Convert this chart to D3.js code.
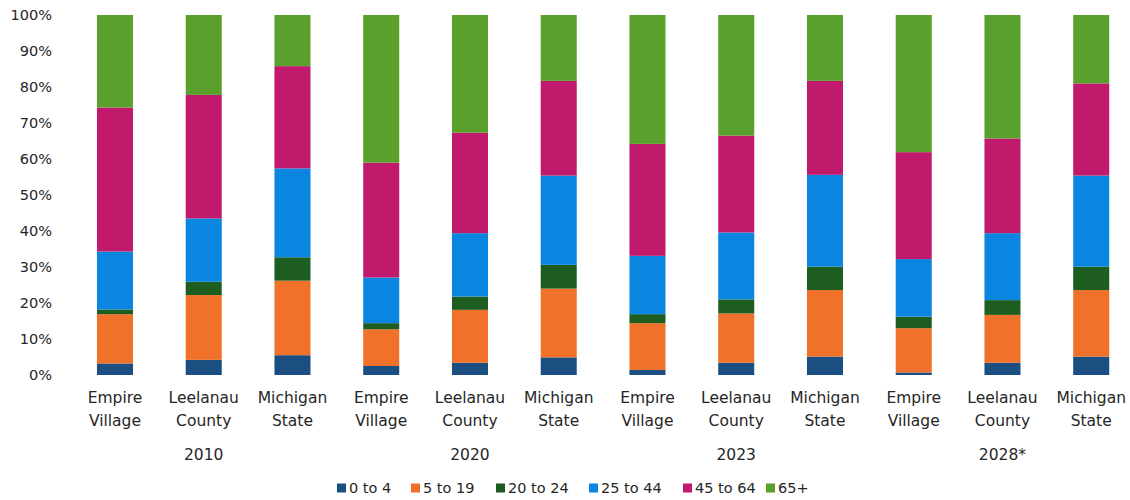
<!DOCTYPE html>
<html>
<head>
<meta charset="utf-8">
<script src="https://cdn.jsdelivr.net/npm/d3@7"></script>
<style>
  html, body { margin: 0; padding: 0; background: #fff; }
  svg text { font-family: "DejaVu Sans", sans-serif; fill: #262626; }
</style>
</head>
<body>
<svg id="chart" width="1130" height="500"></svg>
<script>
// Population share by age group (percent of total)
const years = ["2010", "2020", "2023", "2028*"];
const places = [["Empire", "Village"], ["Leelanau", "County"], ["Michigan", "State"]];
const ageGroups = ["0 to 4", "5 to 19", "20 to 24", "25 to 44", "45 to 64", "65+"];
const groupColors = ["#1b4f82", "#f0712a", "#1d5e20", "#0a86e0", "#c1196c", "#5aa02c"];

// One value per bar, in order: year × place
const age0to4   = [3.2, 4.2, 5.5, 2.5, 3.4, 4.9, 1.4, 3.4, 5.1, 0.7, 3.4, 5.1];
const age5to19  = [13.7, 18.0, 20.7, 10.2, 14.7, 19.1, 13.0, 13.7, 18.5, 12.3, 13.3, 18.5];
const age20to24 = [1.3, 3.7, 6.5, 1.7, 3.7, 6.6, 2.5, 3.9, 6.5, 3.2, 4.1, 6.5];
const age25to44 = [16.1, 17.6, 24.7, 12.7, 17.6, 24.8, 16.2, 18.6, 25.5, 16.0, 18.6, 25.3];
const age45to64 = [40.0, 34.3, 28.4, 31.9, 27.9, 26.3, 31.1, 26.9, 26.1, 29.7, 26.3, 25.6];
const age65plus = [25.7, 22.2, 14.2, 41.0, 32.7, 18.3, 35.8, 33.5, 18.3, 38.1, 34.3, 19.0];

const yTicks = [0, 10, 20, 30, 40, 50, 60, 70, 80, 90, 100];

const series = [age0to4, age5to19, age20to24, age25to44, age45to64, age65plus];
const rows = [];
years.forEach((yr, yi) => {
  places.forEach((pl, pi) => {
    const idx = yi * places.length + pi;
    const row = { key: yr + "|" + pl.join(" "), year: yr, place: pl, pi };
    ageGroups.forEach((g, gi) => { row[g] = series[gi][idx]; });
    rows.push(row);
  });
});

const svg = d3.select("#chart");
const plotTop = 15, plotBottom = 375;

const x = d3.scaleBand()
  .domain(rows.map(r => r.key))
  .range([70.6, 1135.6])
  .paddingInner(0.594)
  .paddingOuter(0.297);

const y = d3.scaleLinear().domain([0, 100]).range([plotBottom, plotTop]);
const color = d3.scaleOrdinal().domain(ageGroups).range(groupColors);

const stacked = d3.stack().keys(ageGroups)
  .offset(d3.stackOffsetExpand)(rows);

// Stacked bars
svg.append("g").selectAll("g")
  .data(stacked)
  .join("g")
  .attr("fill", d => color(d.key))
  .selectAll("rect")
  .data(d => d)
  .join("rect")
  .attr("x", d => x(d.data.key))
  .attr("width", x.bandwidth())
  .attr("y", d => y(d[1] * 100))
  .attr("height", d => y(d[0] * 100) - y(d[1] * 100));

// Y axis (labels only)
const yAxis = svg.append("g")
  .attr("transform", "translate(54,0)")
  .call(d3.axisLeft(y).tickValues(yTicks).tickFormat(d => d + "%").tickSize(0).tickPadding(2));
yAxis.select(".domain").remove();
yAxis.selectAll("text").style("font-size", "14.5px").style("font-family", "\"DejaVu Sans\", sans-serif").attr("fill", "#262626");

// Place labels under each bar
const labels = svg.append("g").selectAll("text")
  .data(rows)
  .join("text")
  .attr("text-anchor", "middle")
  .style("font-size", "15.5px")
  .attr("x", d => x(d.key) + x.bandwidth() / 2);
labels.append("tspan").attr("x", d => x(d.key) + x.bandwidth() / 2).attr("y", 403).text(d => d.place[0]);
labels.append("tspan").attr("x", d => x(d.key) + x.bandwidth() / 2).attr("y", 426).text(d => d.place[1]);

// Year labels centred under each group
svg.append("g").selectAll("text")
  .data(rows.filter(r => r.pi === 1))
  .join("text")
  .attr("text-anchor", "middle")
  .style("font-size", "15.5px")
  .attr("x", d => x(d.key) + x.bandwidth() / 2)
  .attr("y", 460)
  .text(d => d.year);

// Legend
const legendX = [337, 411, 496, 589, 683, 766];
const legend = svg.append("g").selectAll("g")
  .data(ageGroups)
  .join("g")
  .attr("transform", (d, i) => `translate(${legendX[i]},488)`);
legend.append("rect")
  .attr("x", 0).attr("y", -4.5).attr("width", 9).attr("height", 9)
  .attr("fill", d => color(d));
legend.append("text")
  .attr("x", 12).attr("dy", "0.35em")
  .style("font-size", "14.5px")
  .text(d => d);
</script>
</body>
</html>
